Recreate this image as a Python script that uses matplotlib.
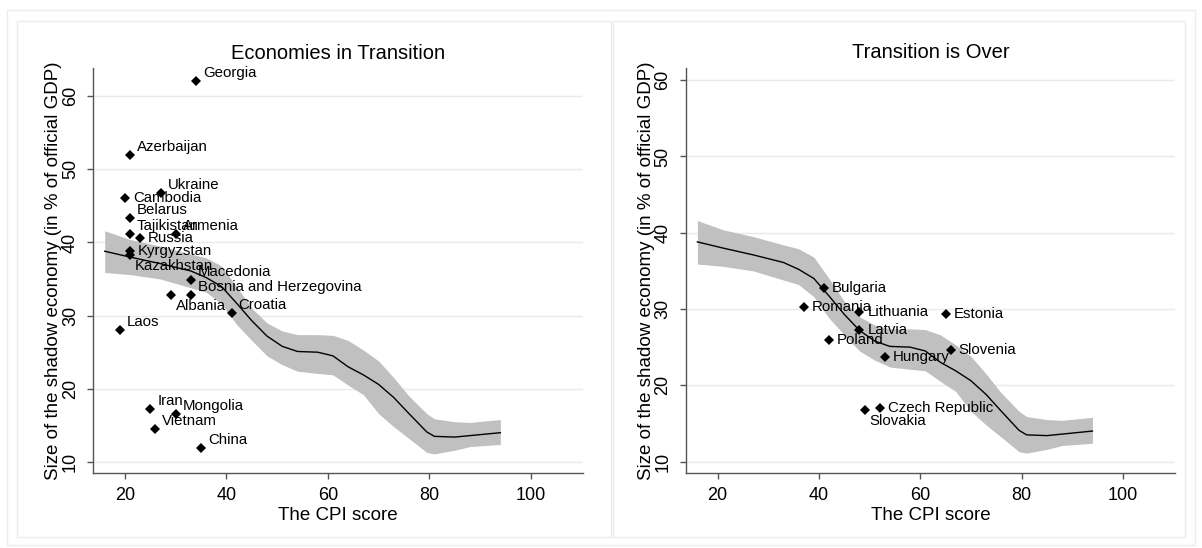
import matplotlib
matplotlib.use("Agg")
import matplotlib.pyplot as plt
from matplotlib.patches import Rectangle

plt.rcParams['font.family'] = ['Liberation Sans', 'DejaVu Sans']

W, H = 1202, 548

# countries still in transition
trans_names = ['Georgia', 'Azerbaijan', 'Ukraine', 'Cambodia', 'Belarus', 'Tajikistan',
               'Armenia', 'Russia', 'Kyrgyzstan', 'Kazakhstan', 'Macedonia',
               'Bosnia and Herzegovina', 'Albania', 'Croatia', 'Laos', 'Iran',
               'Mongolia', 'Vietnam', 'China']
trans_cpi = [34, 21, 27, 20, 21, 21, 30, 23, 21, 21, 33, 33, 29, 41, 19, 25, 30, 26, 35]
trans_shadow = [62.1, 52.0, 46.8, 46.1, 43.3, 41.1, 41.2, 40.6, 38.8, 38.3, 34.9,
                32.8, 32.8, 30.4, 28.1, 17.3, 16.5, 14.5, 11.9]
trans_clock = [2, 2, 2, 3, 2, 2, 2, 3, 3, 4, 2, 2, 4, 2, 2, 2, 2, 2, 2]

# countries where transition is over
over_names = ['Bulgaria', 'Romania', 'Lithuania', 'Estonia', 'Latvia', 'Poland',
              'Hungary', 'Slovenia', 'Slovakia', 'Czech Republic']
over_cpi = [41, 37, 48, 65, 48, 42, 53, 66, 49, 52]
over_shadow = [32.7, 30.2, 29.6, 29.4, 27.2, 26.0, 23.7, 24.6, 16.8, 17.0]
over_clock = [3, 3, 3, 3, 3, 3, 3, 3, 4, 3]

# lowess smooth with confidence band (same fit in both panels)
fit_x = [16, 21, 27, 33, 36, 39, 42, 45, 48, 51, 54, 58, 61, 64, 67, 70, 73, 76,
         79.5, 81, 85, 88, 94]
fit_y = [38.8, 38.0, 37.1, 36.1, 35.2, 34.0, 31.7, 29.3, 27.2, 25.8, 25.1, 25.0,
         24.5, 23.0, 21.9, 20.6, 18.8, 16.6, 14.1, 13.5, 13.4, 13.6, 14.0]
fit_hi = [41.6, 40.4, 39.5, 38.4, 37.9, 36.8, 34.0, 31.0, 29.0, 27.9, 27.4, 27.4,
          27.3, 26.6, 25.3, 23.8, 21.5, 19.0, 16.6, 15.9, 15.5, 15.4, 15.8]
fit_lo = [35.9, 35.6, 35.0, 33.8, 33.2, 31.6, 28.8, 26.6, 24.5, 23.3, 22.4, 22.1,
          21.9, 20.5, 19.2, 16.6, 14.8, 13.2, 11.3, 11.1, 11.6, 12.1, 12.4]

# label offsets in pixels for the clock positions used on the markers
clock_offsets = {2: (7, 8), 3: (8, 0), 4: (5, -11)}

fig = plt.figure(figsize=(W / 100, H / 100), dpi=100)
fig.patch.set_facecolor('white')


def px_rect(x0, y0, x1, y1):
    return Rectangle((x0 / W, 1 - y1 / H), (x1 - x0) / W, (y1 - y0) / H,
                     transform=fig.transFigure, fill=False,
                     edgecolor='#ececec', linewidth=1.0)


fig.patches.append(px_rect(7, 10, 1195, 545))
fig.patches.append(px_rect(17, 21, 611, 537))
fig.patches.append(px_rect(613, 21, 1185, 537))


def panel(rect, ylim, title, cpi, shadow, names, clock):
    ax = fig.add_axes(rect)
    ax.fill_between(fit_x, fit_lo, fit_hi, color='#c0c0c0', linewidth=0, zorder=1)
    ax.plot(fit_x, fit_y, color='black', linewidth=1.0, zorder=2)
    ax.plot(cpi, shadow, linestyle='none', marker='D', markersize=5.2,
            color='black', markeredgewidth=0, zorder=3)
    for x, y, name, c in zip(cpi, shadow, names, clock):
        dx, dy = clock_offsets[c]
        ax.annotate(name, (x, y), xytext=(dx, dy), textcoords='offset pixels',
                    ha='left', va='center', fontsize=10.8, zorder=4)

    ax.set_xlim(13.75, 110.3)
    ax.set_ylim(*ylim)
    ax.set_xticks([20, 40, 60, 80, 100])
    ax.set_yticks([10, 20, 30, 40, 50, 60])
    ax.grid(axis='y', color='#eaeaea', linewidth=1.0, zorder=0)
    ax.set_axisbelow(True)
    for s in ['top', 'right']:
        ax.spines[s].set_visible(False)
    for s in ['left', 'bottom']:
        ax.spines[s].set_color('#555555')
        ax.spines[s].set_linewidth(1.0)
    ax.tick_params(axis='both', colors='#555555', length=4.6, width=1.0,
                   labelsize=13, labelcolor='black')
    ax.tick_params(axis='x', pad=5.3)
    ax.tick_params(axis='y', pad=5.8)
    for lab in ax.get_yticklabels():
        lab.set_rotation(90)
        lab.set_va('center')
    ax.set_xlabel('The CPI score', fontsize=13.5, labelpad=2)
    ax.set_ylabel('Size of the shadow economy (in % of official GDP)',
                  fontsize=13.5, labelpad=0)
    ax.set_title(title, fontsize=14.5, pad=7)
    return ax


panel([93.3 / W, 1 - 473.3 / H, 489.7 / W, 405 / H], (8.45, 63.8),
      'Economies in Transition', trans_cpi, trans_shadow, trans_names, trans_clock)
panel([686 / W, 1 - 473 / H, 489 / W, 405 / H], (8.5, 61.6),
      'Transition is Over', over_cpi, over_shadow, over_names, over_clock)

fig.savefig('out.png', dpi=100)
